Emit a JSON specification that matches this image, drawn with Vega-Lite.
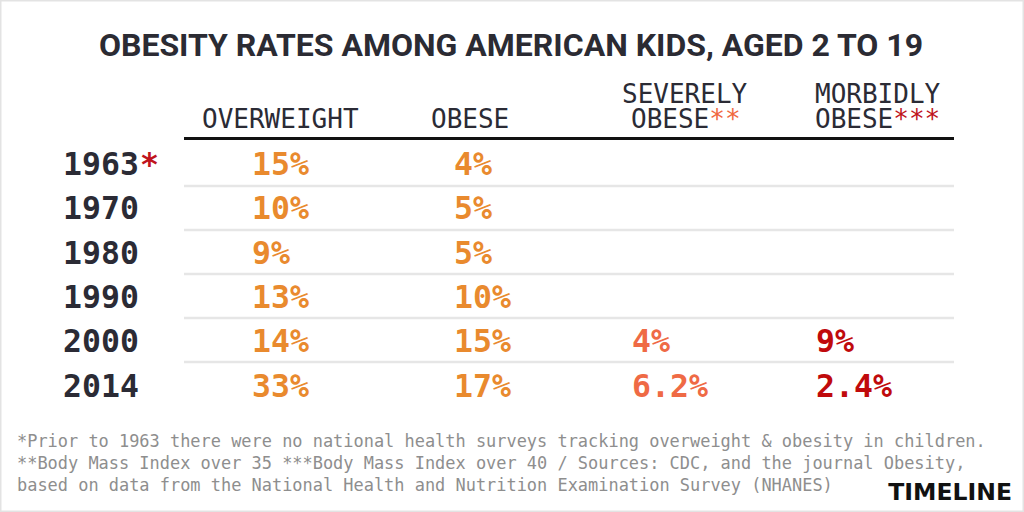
{
  "$schema": "https://vega.github.io/schema/vega-lite/v6.json",
  "width": 1024,
  "height": 512,
  "padding": 0,
  "autosize": {"type": "none"},
  "background": "white",
  "view": {"stroke": "#e3e3e3", "strokeWidth": 3, "fill": "white"},
  "datasets": {
    "years": [
      {"year": 1963, "note": "*"},
      {"year": 1970},
      {"year": 1980},
      {"year": 1990},
      {"year": 2000},
      {"year": 2014}
    ],
    "cells": [
      {"year": 1963, "measure": "Overweight", "value": "15%"},
      {"year": 1963, "measure": "Obese", "value": "4%"},
      {"year": 1970, "measure": "Overweight", "value": "10%"},
      {"year": 1970, "measure": "Obese", "value": "5%"},
      {"year": 1980, "measure": "Overweight", "value": "9%"},
      {"year": 1980, "measure": "Obese", "value": "5%"},
      {"year": 1990, "measure": "Overweight", "value": "13%"},
      {"year": 1990, "measure": "Obese", "value": "10%"},
      {"year": 2000, "measure": "Overweight", "value": "14%"},
      {"year": 2000, "measure": "Obese", "value": "15%"},
      {"year": 2000, "measure": "Severely obese", "value": "4%"},
      {"year": 2000, "measure": "Morbidly obese", "value": "9%"},
      {"year": 2014, "measure": "Overweight", "value": "33%"},
      {"year": 2014, "measure": "Obese", "value": "17%"},
      {"year": 2014, "measure": "Severely obese", "value": "6.2%"},
      {"year": 2014, "measure": "Morbidly obese", "value": "2.4%"}
    ],
    "headers": [
      {"measure": "Overweight", "line": 2, "label": "OVERWEIGHT"},
      {"measure": "Obese", "line": 2, "label": "OBESE"},
      {"measure": "Severely obese", "line": 1, "label": "SEVERELY"},
      {"measure": "Severely obese", "line": 2, "label": "OBESE", "stars": "**"},
      {"measure": "Morbidly obese", "line": 1, "label": "MORBIDLY"},
      {"measure": "Morbidly obese", "line": 2, "label": "OBESE", "stars": "***"}
    ],
    "texts": [
      {"role": "title", "line": 0, "text": "OBESITY RATES AMONG AMERICAN KIDS, AGED 2 TO 19"},
      {"role": "note", "line": 1, "text": "*Prior to 1963 there were no national health surveys tracking overweight & obesity in children."},
      {"role": "note", "line": 2, "text": "**Body Mass Index over 35 ***Body Mass Index over 40 / Sources: CDC, and the journal Obesity,"},
      {"role": "note", "line": 3, "text": "based on data from the National Health and Nutrition Examination Survey (NHANES)"},
      {"role": "brand", "line": 0, "text": "TIMELINE"}
    ]
  },
  "layer": [
    {
      "data": {"name": "years"},
      "transform": [{"filter": "datum.year < 2014"}],
      "mark": {"type": "rule", "color": "#e6e6e6", "strokeWidth": 2.5},
      "encoding": {
        "y": {"field": "year", "type": "ordinal", "scale": {"type": "point", "domain": [1963, 1970, 1980, 1990, 2000], "range": [186, 362], "padding": 0}, "axis": null},
        "x": {"datum": 0, "type": "quantitative", "scale": {"domain": [0, 1], "range": [184, 954]}, "axis": null},
        "x2": {"datum": 1}
      }
    },
    {
      "data": {"values": [{"part": "header"}]},
      "mark": {"type": "rule", "color": "#111111", "strokeWidth": 3},
      "encoding": {
        "y": {"field": "part", "type": "nominal", "scale": {"type": "point", "domain": ["header"], "range": [138.5, 138.5], "padding": 0}, "axis": null},
        "x": {"datum": 0, "type": "quantitative", "scale": {"domain": [0, 1], "range": [184, 954]}, "axis": null},
        "x2": {"datum": 1}
      }
    },
    {
      "data": {"name": "years"},
      "mark": {"type": "text", "align": "left", "baseline": "alphabetic", "font": "DejaVu Sans Mono", "fontWeight": "bold", "fontSize": 31.5, "color": "#2b2b35"},
      "encoding": {
        "x": {"datum": "year", "type": "nominal", "scale": {"type": "point", "domain": ["year"], "range": [63, 63], "padding": 0}, "axis": null},
        "y": {"field": "year", "type": "ordinal", "scale": {"type": "point", "domain": [1963, 1970, 1980, 1990, 2000, 2014], "range": [175, 396.5], "padding": 0}, "axis": null},
        "text": {"field": "year", "type": "nominal"}
      }
    },
    {
      "data": {"name": "years"},
      "transform": [{"filter": "isValid(datum.note)"}],
      "mark": {"type": "text", "align": "left", "baseline": "alphabetic", "font": "DejaVu Sans Mono", "fontWeight": "bold", "fontSize": 31.5, "color": "#c0141c"},
      "encoding": {
        "x": {"datum": "note", "type": "nominal", "scale": {"type": "point", "domain": ["note"], "range": [140, 140], "padding": 0}, "axis": null},
        "y": {"field": "year", "type": "ordinal", "scale": {"type": "point", "domain": [1963, 1970, 1980, 1990, 2000, 2014], "range": [175, 396.5], "padding": 0}, "axis": null},
        "text": {"field": "note", "type": "nominal"}
      }
    },
    {
      "encoding": {"x": {"datum": "Overweight", "type": "nominal", "scale": {"type": "point", "domain": ["Overweight"], "range": [252, 252], "padding": 0}, "axis": null}},
      "layer": [
        {
          "data": {"name": "cells"},
          "transform": [{"filter": "datum.measure === 'Overweight'"}],
          "mark": {"type": "text", "align": "left", "baseline": "alphabetic", "font": "DejaVu Sans Mono", "fontWeight": "bold", "fontSize": 31.5, "color": "#e98a2e"},
          "encoding": {
            "y": {"field": "year", "type": "ordinal", "scale": {"type": "point", "domain": [1963, 1970, 1980, 1990, 2000, 2014], "range": [175, 396.5], "padding": 0}, "axis": null},
            "text": {"field": "value", "type": "nominal"}
          }
        },
        {
          "data": {"name": "headers"},
          "transform": [{"filter": "datum.measure === 'Overweight'"}],
          "mark": {"type": "text", "align": "left", "baseline": "alphabetic", "font": "DejaVu Sans Mono", "fontSize": 26, "color": "#2b2b35", "dx": -50},
          "encoding": {
            "y": {"field": "line", "type": "ordinal", "scale": {"type": "point", "domain": [1, 2], "range": [102.5, 127.5], "padding": 0}, "axis": null},
            "text": {"field": "label", "type": "nominal"}
          }
        }
      ],
      "resolve": {"scale": {"y": "independent"}}
    },
    {
      "encoding": {"x": {"datum": "Obese", "type": "nominal", "scale": {"type": "point", "domain": ["Obese"], "range": [454, 454], "padding": 0}, "axis": null}},
      "layer": [
        {
          "data": {"name": "cells"},
          "transform": [{"filter": "datum.measure === 'Obese'"}],
          "mark": {"type": "text", "align": "left", "baseline": "alphabetic", "font": "DejaVu Sans Mono", "fontWeight": "bold", "fontSize": 31.5, "color": "#e98a2e"},
          "encoding": {
            "y": {"field": "year", "type": "ordinal", "scale": {"type": "point", "domain": [1963, 1970, 1980, 1990, 2000, 2014], "range": [175, 396.5], "padding": 0}, "axis": null},
            "text": {"field": "value", "type": "nominal"}
          }
        },
        {
          "data": {"name": "headers"},
          "transform": [{"filter": "datum.measure === 'Obese'"}],
          "mark": {"type": "text", "align": "left", "baseline": "alphabetic", "font": "DejaVu Sans Mono", "fontSize": 26, "color": "#2b2b35", "dx": -23},
          "encoding": {
            "y": {"field": "line", "type": "ordinal", "scale": {"type": "point", "domain": [1, 2], "range": [102.5, 127.5], "padding": 0}, "axis": null},
            "text": {"field": "label", "type": "nominal"}
          }
        }
      ],
      "resolve": {"scale": {"y": "independent"}}
    },
    {
      "encoding": {"x": {"datum": "Severely obese", "type": "nominal", "scale": {"type": "point", "domain": ["Severely obese"], "range": [632, 632], "padding": 0}, "axis": null}},
      "layer": [
        {
          "data": {"name": "cells"},
          "transform": [{"filter": "datum.measure === 'Severely obese'"}],
          "mark": {"type": "text", "align": "left", "baseline": "alphabetic", "font": "DejaVu Sans Mono", "fontWeight": "bold", "fontSize": 31.5, "color": "#ef6a45"},
          "encoding": {
            "y": {"field": "year", "type": "ordinal", "scale": {"type": "point", "domain": [1963, 1970, 1980, 1990, 2000, 2014], "range": [175, 396.5], "padding": 0}, "axis": null},
            "text": {"field": "value", "type": "nominal"}
          }
        },
        {
          "data": {"name": "headers"},
          "transform": [{"filter": "datum.measure === 'Severely obese' && datum.line === 1"}],
          "mark": {"type": "text", "align": "left", "baseline": "alphabetic", "font": "DejaVu Sans Mono", "fontSize": 26, "color": "#2b2b35", "dx": -10},
          "encoding": {
            "y": {"field": "line", "type": "ordinal", "scale": {"type": "point", "domain": [1, 2], "range": [102.5, 127.5], "padding": 0}, "axis": null},
            "text": {"field": "label", "type": "nominal"}
          }
        },
        {
          "data": {"name": "headers"},
          "transform": [{"filter": "datum.measure === 'Severely obese' && datum.line === 2"}],
          "mark": {"type": "text", "align": "left", "baseline": "alphabetic", "font": "DejaVu Sans Mono", "fontSize": 26, "color": "#2b2b35", "dx": -1},
          "encoding": {
            "y": {"field": "line", "type": "ordinal", "scale": {"type": "point", "domain": [1, 2], "range": [102.5, 127.5], "padding": 0}, "axis": null},
            "text": {"field": "label", "type": "nominal"}
          }
        },
        {
          "data": {"name": "headers"},
          "transform": [{"filter": "datum.measure === 'Severely obese' && isValid(datum.stars)"}],
          "mark": {"type": "text", "align": "left", "baseline": "alphabetic", "font": "DejaVu Sans Mono", "fontSize": 26, "color": "#f0683f", "dx": 77.3},
          "encoding": {
            "y": {"field": "line", "type": "ordinal", "scale": {"type": "point", "domain": [1, 2], "range": [102.5, 127.5], "padding": 0}, "axis": null},
            "text": {"field": "stars", "type": "nominal"}
          }
        }
      ],
      "resolve": {"scale": {"y": "independent"}}
    },
    {
      "encoding": {"x": {"datum": "Morbidly obese", "type": "nominal", "scale": {"type": "point", "domain": ["Morbidly obese"], "range": [816, 816], "padding": 0}, "axis": null}},
      "layer": [
        {
          "data": {"name": "cells"},
          "transform": [{"filter": "datum.measure === 'Morbidly obese'"}],
          "mark": {"type": "text", "align": "left", "baseline": "alphabetic", "font": "DejaVu Sans Mono", "fontWeight": "bold", "fontSize": 31.5, "color": "#c00a0c"},
          "encoding": {
            "y": {"field": "year", "type": "ordinal", "scale": {"type": "point", "domain": [1963, 1970, 1980, 1990, 2000, 2014], "range": [175, 396.5], "padding": 0}, "axis": null},
            "text": {"field": "value", "type": "nominal"}
          }
        },
        {
          "data": {"name": "headers"},
          "transform": [{"filter": "datum.measure === 'Morbidly obese'"}],
          "mark": {"type": "text", "align": "left", "baseline": "alphabetic", "font": "DejaVu Sans Mono", "fontSize": 26, "color": "#2b2b35", "dx": -1},
          "encoding": {
            "y": {"field": "line", "type": "ordinal", "scale": {"type": "point", "domain": [1, 2], "range": [102.5, 127.5], "padding": 0}, "axis": null},
            "text": {"field": "label", "type": "nominal"}
          }
        },
        {
          "data": {"name": "headers"},
          "transform": [{"filter": "datum.measure === 'Morbidly obese' && isValid(datum.stars)"}],
          "mark": {"type": "text", "align": "left", "baseline": "alphabetic", "font": "DejaVu Sans Mono", "fontSize": 26, "color": "#c0141c", "dx": 77.3},
          "encoding": {
            "y": {"field": "line", "type": "ordinal", "scale": {"type": "point", "domain": [1, 2], "range": [102.5, 127.5], "padding": 0}, "axis": null},
            "text": {"field": "stars", "type": "nominal"}
          }
        }
      ],
      "resolve": {"scale": {"y": "independent"}}
    },
    {
      "data": {"name": "texts"},
      "transform": [{"filter": "datum.role === 'title'"}],
      "mark": {"type": "text", "align": "center", "baseline": "alphabetic", "font": "Roboto", "fontWeight": "bold", "fontSize": 32, "color": "#2b2b33"},
      "encoding": {
        "x": {"field": "role", "type": "nominal", "scale": {"type": "point", "domain": ["title"], "range": [511, 511], "padding": 0}, "axis": null},
        "y": {"field": "role", "type": "nominal", "scale": {"type": "point", "domain": ["title"], "range": [56, 56], "padding": 0}, "axis": null},
        "text": {"field": "text", "type": "nominal"}
      }
    },
    {
      "data": {"name": "texts"},
      "transform": [{"filter": "datum.role === 'note'"}],
      "mark": {"type": "text", "align": "left", "baseline": "alphabetic", "font": "DejaVu Sans Mono", "fontSize": 16.95, "color": "#8e8e8e"},
      "encoding": {
        "x": {"field": "role", "type": "nominal", "scale": {"type": "point", "domain": ["note"], "range": [17, 17], "padding": 0}, "axis": null},
        "y": {"field": "line", "type": "ordinal", "scale": {"type": "point", "domain": [1, 2, 3], "range": [447, 491], "padding": 0}, "axis": null},
        "text": {"field": "text", "type": "nominal"}
      }
    },
    {
      "data": {"name": "texts"},
      "transform": [{"filter": "datum.role === 'brand'"}],
      "mark": {"type": "text", "align": "right", "baseline": "alphabetic", "font": "DejaVu Sans", "fontWeight": "bold", "fontSize": 23.5, "color": "#111111"},
      "encoding": {
        "x": {"field": "role", "type": "nominal", "scale": {"type": "point", "domain": ["brand"], "range": [1012, 1012], "padding": 0}, "axis": null},
        "y": {"field": "role", "type": "nominal", "scale": {"type": "point", "domain": ["brand"], "range": [500, 500], "padding": 0}, "axis": null},
        "text": {"field": "text", "type": "nominal"}
      }
    }
  ],
  "resolve": {"scale": {"x": "independent", "y": "independent"}}
}
